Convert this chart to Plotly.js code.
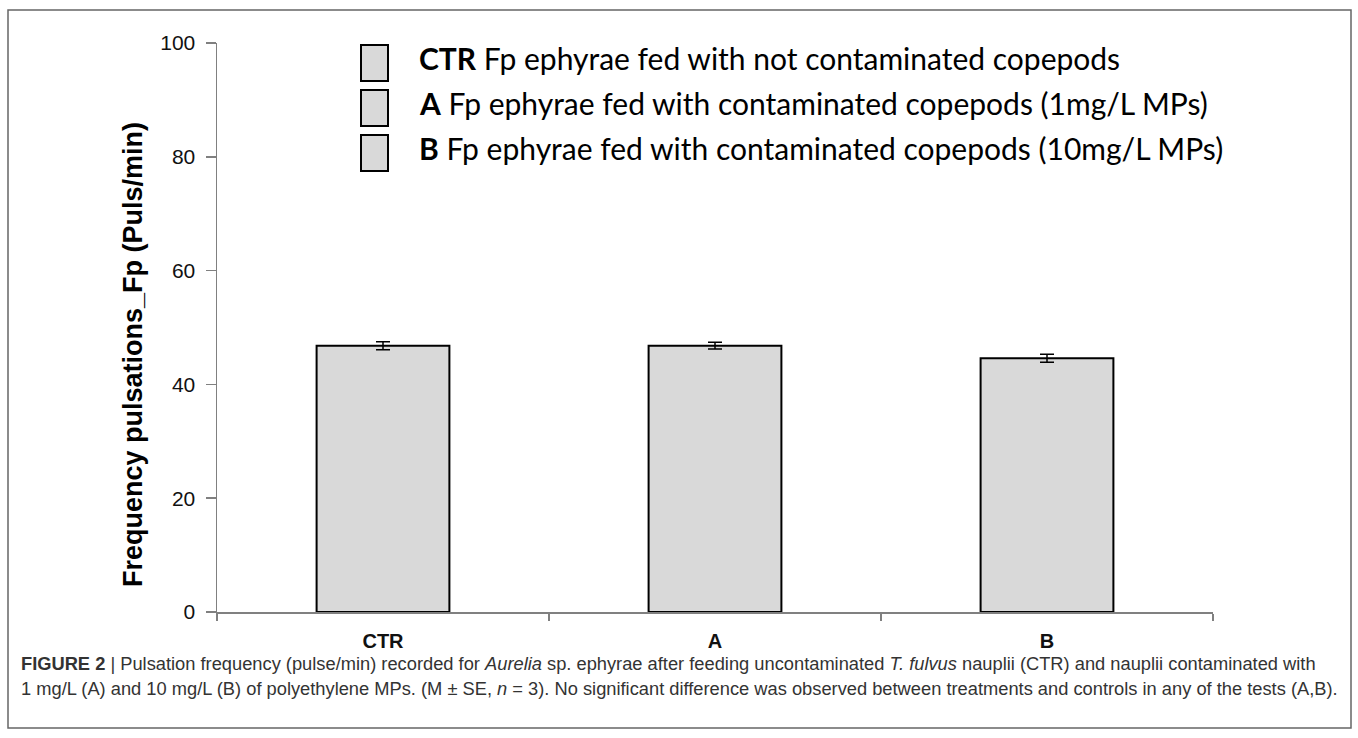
<!DOCTYPE html>
<html>
<head>
<meta charset="utf-8">
<script src="https://cdn.plot.ly/plotly-3.0.1.min.js"></script>
<style>html,body{margin:0;padding:0;background:#fff;}#chart{width:1358px;height:738px;}</style>
</head>
<body>
<div id="chart"></div>
<script>
// ---- data ----
const categories = ["CTR", "A", "B"];
const meanValues = [46.8, 46.8, 44.6];
const seValues = [0.7, 0.6, 0.7];
const legendLabels = [
  "<b>CTR</b> Fp ephyrae fed with not contaminated copepods",
  "<b>A</b> Fp ephyrae fed with contaminated copepods (1mg/L MPs)",
  "<b>B</b> Fp ephyrae fed with contaminated copepods (10mg/L MPs)"
];
const yTitle = "Frequency pulsations_Fp (Puls/min)";
const captionLines = [
  "<b>FIGURE 2</b> | Pulsation frequency (pulse/min) recorded for <i>Aurelia</i> sp. ephyrae after feeding uncontaminated <i>T. fulvus</i> nauplii (CTR) and nauplii contaminated with",
  "1 mg/L (A) and 10 mg/L (B) of polyethylene MPs. (M \u00b1 SE, <i>n</i> = 3). No significant difference was observed between treatments and controls in any of the tests (A,B)."
];

// ---- layout geometry (pixels) ----
const W = 1358, H = 738;
const L = 217, R = 1213, T = 43, B = 612;
const px = v => (v - L) / (R - L);
const py = v => (B - v) / (B - T);

const trace = {
  type: "bar",
  x: categories,
  y: meanValues,
  marker: {color: "#d9d9d9", line: {color: "#000", width: 2}},
  error_y: {type: "data", array: seValues, visible: true, color: "#000", thickness: 1.5, width: 7},
  hoverinfo: "x+y",
  showlegend: false
};

const shapes = [
  {type: "rect", xref: "paper", yref: "paper", x0: px(8), x1: px(1351), y0: py(728), y1: py(10),
   line: {color: "#666", width: 1.5}, fillcolor: "rgba(0,0,0,0)", layer: "below"}
];
const boxTops = [45, 90, 135];
const annotations = [];
legendLabels.forEach((lab, i) => {
  const top = boxTops[i], bot = top + 36;
  shapes.push({type: "rect", xref: "paper", yref: "paper", x0: px(361), x1: px(388), y0: py(bot), y1: py(top),
    line: {color: "#000", width: 2}, fillcolor: "#d9d9d9"});
  annotations.push({xref: "paper", yref: "paper", x: px(417), y: py((top + bot) / 2 - 5),
    xanchor: "left", yanchor: "middle", showarrow: false, text: lab,
    font: {family: "Lato, 'Open Sans', sans-serif", size: 30, color: "#000"}});
});
// y-axis title (placed as rotated text to match the reference position)
annotations.push({xref: "paper", yref: "paper", x: px(133), y: py(355),
  xanchor: "center", yanchor: "middle", showarrow: false, textangle: -90,
  text: "<b>" + yTitle + "</b>",
  font: {family: "'Liberation Sans', Arial, sans-serif", size: 27, color: "#000"}});
const capY = [663, 688];
captionLines.forEach((t, i) => {
  annotations.push({xref: "paper", yref: "paper", x: px(19), y: py(capY[i]),
    xanchor: "left", yanchor: "middle", showarrow: false, text: t,
    font: {family: "'Liberation Sans', Arial, sans-serif", size: 18.3, color: "#333"}});
});

const layout = {
  width: W, height: H,
  margin: {l: L, r: W - R, t: T, b: H - B, pad: 0},
  paper_bgcolor: "#fff", plot_bgcolor: "#fff",
  bargap: 0.6,
  xaxis: {
    type: "category", tickson: "boundaries", ticks: "outside", ticklen: 7, tickwidth: 1.5,
    tickcolor: "#808080", showline: true, linecolor: "#808080", linewidth: 1.5,
    showgrid: false, zeroline: false, ticklabelstandoff: 10,
    tickfont: {family: "'Liberation Sans', Arial, sans-serif", size: 20, color: "#111", weight: "bold"}
  },
  yaxis: {
    range: [0, 100], dtick: 20, ticks: "outside", ticklen: 10, tickwidth: 1.5,
    tickcolor: "#808080", showline: true, linecolor: "#808080", linewidth: 1.5,
    showgrid: false, zeroline: false, ticklabelstandoff: 6,
    tickfont: {family: "'Liberation Sans', Arial, sans-serif", size: 21, color: "#111"}
  },
  shapes: shapes,
  annotations: annotations,
  showlegend: false
};

Plotly.newPlot("chart", [trace], layout, {displayModeBar: false, staticPlot: true});
</script>
</body>
</html>
